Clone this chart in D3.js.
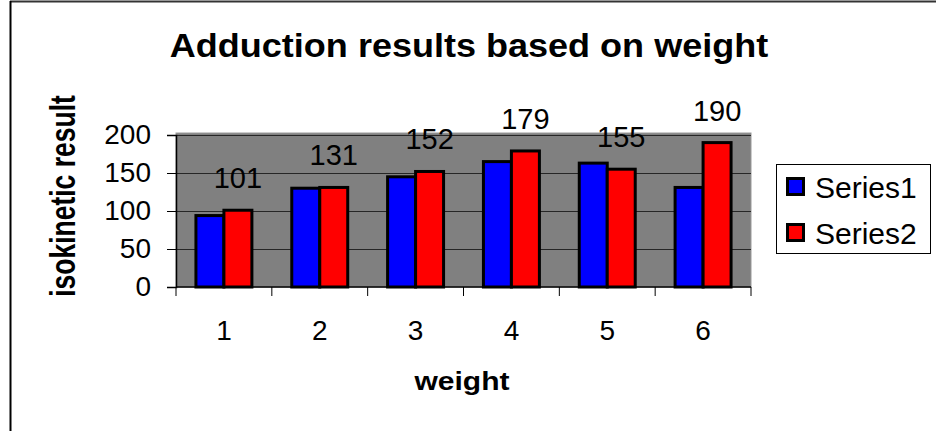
<!DOCTYPE html>
<html>
<head>
<meta charset="utf-8">
<script src="https://cdn.jsdelivr.net/npm/d3@7/dist/d3.min.js"></script>
<style>
  html, body { margin: 0; padding: 0; background: #fff; }
  svg { display: block; font-family: Arial, "Liberation Sans", sans-serif; }
</style>
</head>
<body>
<svg id="chart" width="936" height="431"></svg>
<script>
// Chart data
const categories = ["1", "2", "3", "4", "5", "6"];
const seriesNames = ["Series1", "Series2"];
const series1 = [94, 130, 145, 165, 163, 131];
const series2 = [101, 131, 152, 179, 155, 190];
const yTicks = [0, 50, 100, 150, 200];
const seriesColors = ["#0000ff", "#ff0000"];

const svg = d3.select("#chart");
const W = 936, H = 431;

// Frame lines along the top and left edges
svg.append("line").attr("x1", 10).attr("x2", W).attr("y1", 1.5).attr("y2", 1.5)
  .attr("stroke", "#333").attr("stroke-width", 2);
svg.append("line").attr("x1", 10.5).attr("x2", 10.5).attr("y1", 1).attr("y2", H)
  .attr("stroke", "#000").attr("stroke-width", 2);

// Plot area
const plot = { left: 176, right: 751, top: 135, bottom: 287 };

const x = d3.scaleBand().domain(categories).range([plot.left, plot.right]).padding(0);
const y = d3.scaleLinear().domain([0, 200]).range([plot.bottom, plot.top]);
const bw = x.bandwidth();
const xs = d3.scaleBand().domain(seriesNames).range([bw * 0.208, bw * 0.792]).padding(0);

svg.append("rect")
  .attr("x", plot.left).attr("y", plot.top - 2)
  .attr("width", plot.right - plot.left).attr("height", plot.bottom - plot.top + 2)
  .attr("fill", "#808080").attr("stroke", "#999").attr("stroke-width", 1);

// Horizontal gridlines
svg.append("g").selectAll("line").data(yTicks.filter(d => d > 0)).join("line")
  .attr("x1", plot.left).attr("x2", plot.right)
  .attr("y1", d => Math.round(y(d)) + 0.5).attr("y2", d => Math.round(y(d)) + 0.5)
  .attr("stroke", "#262626").attr("stroke-width", 1);

// Bars
const rows = categories.map((c, i) => ({ cat: c, values: [series1[i], series2[i]] }));
const groups = svg.append("g").selectAll("g").data(rows).join("g")
  .attr("transform", d => `translate(${x(d.cat)},0)`);
groups.selectAll("rect").data(d => d.values.map((v, j) => ({ name: seriesNames[j], v, j })))
  .join("rect")
  .attr("x", d => xs(d.name))
  .attr("y", d => y(d.v))
  .attr("width", xs.bandwidth())
  .attr("height", d => y(0) - y(d.v))
  .attr("fill", d => seriesColors[d.j])
  .attr("stroke", "#000").attr("stroke-width", 3);

// Y axis
const yAxis = d3.axisLeft(y).tickValues(yTicks).tickSize(9).tickPadding(16);
const yg = svg.append("g").attr("transform", `translate(${plot.left},0)`).call(yAxis);
yg.select(".domain").attr("stroke", "#000").attr("stroke-width", 1.5);
yg.selectAll(".tick line").attr("stroke", "#000");
yg.selectAll(".tick text").attr("font-size", 28).attr("fill", "#000")
  .attr("font-family", "Arial, 'Liberation Sans', sans-serif");

// X axis with ticks at category boundaries
const xg = svg.append("g").attr("transform", `translate(0,${plot.bottom})`);
xg.append("line").attr("x1", plot.left).attr("x2", plot.right).attr("y1", 0).attr("y2", 0)
  .attr("stroke", "#000").attr("stroke-width", 1.5);
const bounds = categories.map(c => x(c)).concat([plot.right]);
xg.selectAll("line.tk").data(bounds).join("line").attr("class", "tk")
  .attr("x1", d => d).attr("x2", d => d).attr("y1", 0).attr("y2", 9)
  .attr("stroke", "#000").attr("stroke-width", 1);
xg.selectAll("text").data(categories).join("text")
  .attr("x", d => x(d) + bw / 2).attr("y", 53)
  .attr("text-anchor", "middle").attr("font-size", 28).attr("fill", "#000")
  .text(d => d);

// Value labels for Series2
svg.append("g").selectAll("text").data(rows).join("text")
  .attr("x", d => x(d.cat) + xs("Series2") + xs.bandwidth() / 2)
  .attr("y", d => y(d.values[1]) - 22)
  .attr("text-anchor", "middle").attr("font-size", 29).attr("fill", "#000")
  .text(d => d.values[1]);

// Titles (bold text is drawn slightly widened)
svg.append("text").attr("transform", "translate(469,57) scale(1.06,1)")
  .attr("text-anchor", "middle")
  .attr("font-size", 34).attr("font-weight", "bold").text("Adduction results based on weight");
svg.append("text").attr("transform", "translate(75,196) scale(1.3,1) rotate(-90)")
  .attr("text-anchor", "middle").attr("font-size", 26.5).attr("font-weight", "bold")
  .text("isokinetic result");
svg.append("text").attr("transform", "translate(462,390) scale(1.2,1)")
  .attr("text-anchor", "middle")
  .attr("font-size", 25).attr("font-weight", "bold").text("weight");

// Legend
const lg = svg.append("g");
lg.append("rect").attr("x", 776.5).attr("y", 164.5).attr("width", 154).attr("height", 89)
  .attr("fill", "#fff").attr("stroke", "#000").attr("stroke-width", 1);
const items = lg.selectAll("g").data(seriesNames).join("g")
  .attr("transform", (d, i) => `translate(0,${i * 46})`);
items.append("rect").attr("x", 787.5).attr("y", 178.5).attr("width", 16).attr("height", 16)
  .attr("fill", (d, i) => seriesColors[i]).attr("stroke", "#000").attr("stroke-width", 3);
items.append("text").attr("x", 815).attr("y", 198).attr("font-size", 30).attr("fill", "#000")
  .text(d => d);
</script>
</body>
</html>
